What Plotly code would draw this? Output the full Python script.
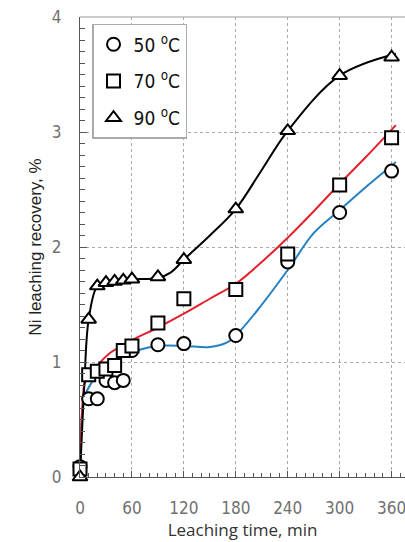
import plotly.graph_objects as go

# Measured data (min, %)
t50 = [0, 10, 20, 30, 40, 50, 60, 90, 120, 180, 240, 300, 360]
r50 = [0.09, 0.68, 0.68, 0.84, 0.82, 0.84, 1.10, 1.15, 1.16, 1.23, 1.87, 2.30, 2.66]
t70 = [0, 10, 20, 30, 40, 50, 60, 90, 120, 180, 240, 300, 360]
r70 = [0.07, 0.89, 0.92, 0.94, 0.97, 1.10, 1.14, 1.34, 1.55, 1.63, 1.94, 2.54, 2.95]
t90 = [0, 10, 20, 30, 40, 50, 60, 90, 120, 180, 240, 300, 360]
r90 = [0.0, 1.37, 1.66, 1.69, 1.70, 1.71, 1.72, 1.74, 1.89, 2.33, 3.01, 3.49, 3.65]

# Fitted curves
ft50 = [0, 1, 3, 8, 20, 35, 55, 90, 120, 150, 170, 180, 205, 240, 270, 300, 330, 365]
fr50 = [0.0, 0.35, 0.6, 0.75, 0.88, 0.97, 1.07, 1.14, 1.14, 1.13, 1.17, 1.23, 1.45, 1.80, 2.12, 2.32, 2.52, 2.74]
ft70 = [0, 1, 3, 5, 10, 20, 35, 60, 90, 120, 150, 180, 210, 240, 270, 300, 330, 365]
fr70 = [0.0, 0.3, 0.65, 0.8, 0.88, 0.97, 1.08, 1.19, 1.30, 1.42, 1.55, 1.68, 1.87, 2.08, 2.31, 2.55, 2.78, 3.06]
ft90 = [0, 5, 10, 20, 30, 40, 50, 60, 90, 105, 120, 150, 180, 210, 240, 300, 365]
fr90 = [0.0, 0.8, 1.37, 1.66, 1.69, 1.70, 1.71, 1.72, 1.73, 1.78, 1.89, 2.10, 2.33, 2.67, 3.01, 3.49, 3.68]

labels = ["50 <sup>o</sup>C", "70 <sup>o</sup>C", "90 <sup>o</sup>C"]
xticks = [0, 60, 120, 180, 240, 300, 360]
yticks = [0, 1, 2, 3, 4]

fig = go.Figure()

for ft, fr, col in [(ft50, fr50, "#2580c3"), (ft70, fr70, "#e3212b"), (ft90, fr90, "#000000")]:
    fig.add_trace(go.Scatter(x=ft, y=fr, mode="lines", line=dict(color=col, width=2, shape="spline"),
                             showlegend=False, hoverinfo="skip"))

for t, r, sym, lab in [(t50, r50, "circle", labels[0]), (t70, r70, "square", labels[1]),
                       (t90, r90, "triangle-up", labels[2])]:
    fig.add_trace(go.Scatter(x=t, y=r, mode="markers", name=lab, legendgroup=lab,
                             marker=dict(symbol=sym, size=13, color="white",
                                         line=dict(color="black", width=2)),
                             cliponaxis=False))

narrow = "Liberation Sans Narrow, Arial Narrow, DejaVu Sans Condensed, Liberation Sans"
tickfont = dict(family=narrow, size=17, color="#707070")

fig.update_layout(
    width=405, height=542,
    margin=dict(l=80, r=0, t=17, b=65),
    paper_bgcolor="white", plot_bgcolor="white",
    showlegend=True,
    legend=dict(x=0.037, y=0.985, xanchor="left", yanchor="top",
                bgcolor="white", bordercolor="#aaaaaa", borderwidth=1.5,
                font=dict(family=narrow, size=19, color="#111111"),
                tracegroupgap=9, traceorder="grouped", entrywidth=78),
    xaxis=dict(range=[0, 375.5], tickvals=xticks, ticktext=[str(v) for v in xticks],
               showgrid=True, gridcolor="#aaaaaa", griddash="dot", gridwidth=1,
               zeroline=False, showline=True, linecolor="#555555", linewidth=1,
               ticks="inside", ticklen=6, tickcolor="#555555",
               minor=dict(dtick=10, ticks="inside", ticklen=4, tickcolor="#555555", showgrid=False),
               tickfont=tickfont, ticklabelstandoff=16, ticklabeloverflow="allow",
               title=dict(text="Leaching time, min", standoff=1,
                          font=dict(family="Open Sans", size=17, color="#333333"))),
    yaxis=dict(range=[0, 4], tickvals=yticks, ticktext=[str(v) for v in yticks],
               showgrid=True, gridcolor="#aaaaaa", griddash="dot", gridwidth=1,
               zeroline=False, showline=True, linecolor="#555555", linewidth=1,
               ticks="inside", ticklen=7, tickcolor="#555555",
               minor=dict(dtick=0.1, ticks="inside", ticklen=5, tickcolor="#555555", showgrid=False),
               tickfont=tickfont, ticklabelstandoff=14,
               title=dict(text="Ni leaching recovery, %", standoff=5,
                          font=dict(family="Liberation Sans, Arial", size=17, color="#222222"))),
    shapes=[dict(type="line", xref="paper", yref="paper", x0=0, x1=1, y0=1, y1=1,
                 line=dict(color="#bbbbbb", width=1.5))],
)

fig.write_html("out.html")
